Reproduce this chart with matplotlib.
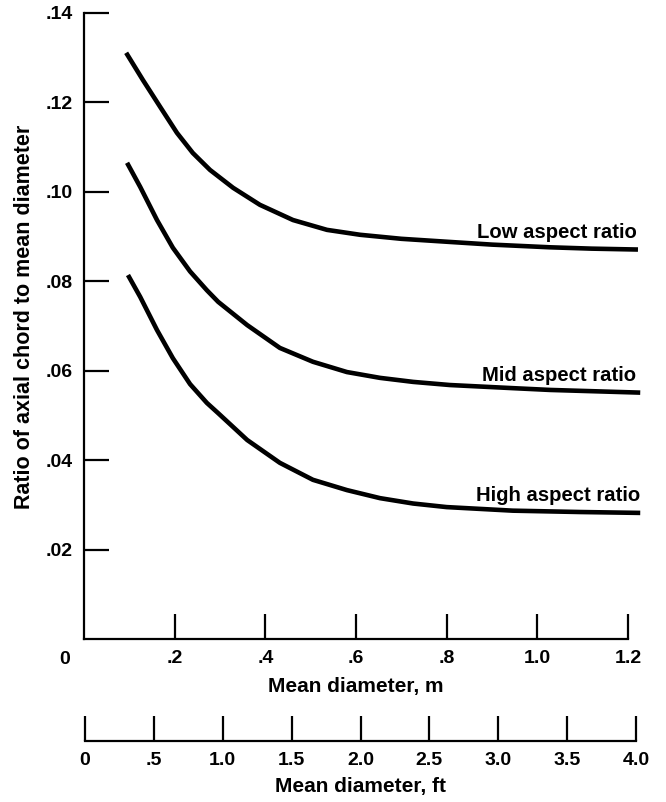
import matplotlib
matplotlib.use("Agg")
import matplotlib.pyplot as plt

# values (mean diameter in m, ratio)
diam_low = [0.093, 0.130, 0.168, 0.205, 0.240, 0.278, 0.329, 0.388, 0.461,
            0.536, 0.609, 0.700, 0.807, 0.900, 1.028, 1.120, 1.222]
ratio_low = [0.1311, 0.1250, 0.1190, 0.1132, 0.1087, 0.1049, 0.1009, 0.0971,
             0.0937, 0.0915, 0.0904, 0.0895, 0.0888, 0.0882, 0.0876, 0.0873,
             0.0871]

diam_mid = [0.095, 0.124, 0.161, 0.196, 0.234, 0.271, 0.296, 0.360, 0.432,
            0.505, 0.580, 0.653, 0.726, 0.807, 0.946, 1.028, 1.227]
ratio_mid = [0.1065, 0.1011, 0.0937, 0.0875, 0.0822, 0.0780, 0.0754, 0.0702,
             0.0651, 0.0620, 0.0597, 0.0584, 0.0575, 0.0568, 0.0561, 0.0557,
             0.0551]

diam_high = [0.097, 0.124, 0.161, 0.196, 0.234, 0.271, 0.296, 0.360, 0.432,
             0.505, 0.580, 0.653, 0.726, 0.800, 0.946, 1.094, 1.227]
ratio_high = [0.0814, 0.0765, 0.0691, 0.0628, 0.0570, 0.0528, 0.0505, 0.0445,
              0.0394, 0.0356, 0.0333, 0.0315, 0.0303, 0.0295, 0.0287, 0.0284,
              0.0282]

series_labels = ["Low aspect ratio", "Mid aspect ratio", "High aspect ratio"]
label_x = [1.220, 1.218, 1.226]
label_y = [0.0897, 0.0577, 0.0309]

m_ticks = [0.2, 0.4, 0.6, 0.8, 1.0, 1.2]
m_ticklabels = [".2", ".4", ".6", ".8", "1.0", "1.2"]
y_ticks = [0.02, 0.04, 0.06, 0.08, 0.10, 0.12, 0.14]
y_ticklabels = [".02", ".04", ".06", ".08", ".10", ".12", ".14"]
ft_ticks = [0, 0.5, 1.0, 1.5, 2.0, 2.5, 3.0, 3.5, 4.0]
ft_ticklabels = ["0", ".5", "1.0", "1.5", "2.0", "2.5", "3.0", "3.5", "4.0"]

plt.rcParams["font.family"] = ["Liberation Sans", "DejaVu Sans"]
plt.rcParams["font.weight"] = "bold"
TICK_FS = 14
LAB_FS = 14.6

W, H = 666, 802
fig = plt.figure(figsize=(W / 100, H / 100), dpi=100)

# main axes (metres)
ax = fig.add_axes([84 / W, (H - 639) / H, 544 / W, 626 / H])
for x, y in [(diam_low, ratio_low), (diam_mid, ratio_mid), (diam_high, ratio_high)]:
    ax.plot(x, y, color="black", lw=3.3, solid_capstyle="butt",
            solid_joinstyle="round", clip_on=False)

for lab, lx, ly in zip(series_labels, label_x, label_y):
    ax.text(lx, ly, lab, ha="right", va="baseline", fontsize=LAB_FS,
            fontweight="bold")

ax.set_xlim(0, 1.2)
ax.set_ylim(0, 0.14)
ax.spines["top"].set_visible(False)
ax.spines["right"].set_visible(False)
for s in ("left", "bottom"):
    ax.spines[s].set_linewidth(1.6)
ax.set_xticks(m_ticks)
ax.set_xticklabels(m_ticklabels)
ax.set_yticks(y_ticks)
ax.set_yticklabels(y_ticklabels)
ax.tick_params(direction="in", length=18, width=1.6, labelsize=TICK_FS, pad=8)
ax.set_xlabel("Mean diameter, m", fontsize=15, fontweight="bold", labelpad=7)
ax.annotate("0", xy=(0, 0), xytext=(-19, -21), textcoords="offset pixels",
            ha="center", va="center", fontsize=TICK_FS, fontweight="bold")
fig.text(25 / W, 1 - 317 / H, "Ratio of axial chord to mean diameter",
         rotation=90, ha="center", va="center", fontsize=15.5, fontweight="bold")

# secondary scale (feet)
ax2 = fig.add_axes([85 / W, (H - 741) / H, 551 / W, 0.001])
ax2.set_xlim(0, 4.0)
for s in ("top", "right", "left"):
    ax2.spines[s].set_visible(False)
ax2.spines["bottom"].set_linewidth(1.6)
ax2.set_yticks([])
ax2.set_xticks(ft_ticks)
ax2.set_xticklabels(ft_ticklabels)
ax2.tick_params(axis="x", direction="in", length=18, width=1.6,
                labelsize=TICK_FS, pad=8)
ax2.set_xlabel("Mean diameter, ft", fontsize=15, fontweight="bold", labelpad=6)
ax2.patch.set_visible(False)

fig.savefig("out.png", dpi=100)
